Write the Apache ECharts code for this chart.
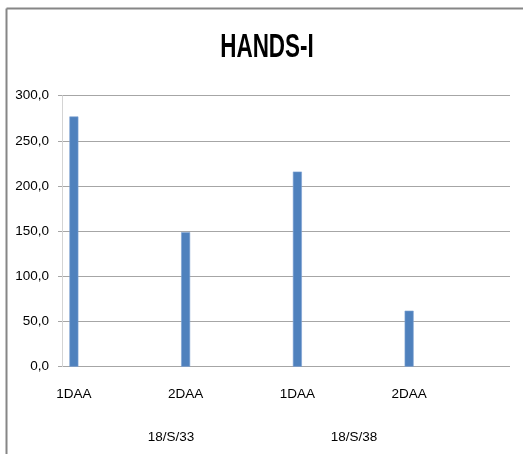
<!DOCTYPE html>
<html>
<head>
<meta charset="utf-8">
<style>html,body{margin:0;padding:0;background:#fff;overflow:hidden;}#c{width:523px;height:454px;}</style>
<script src="https://cdn.jsdelivr.net/npm/echarts@6/dist/echarts.min.js"></script>
</head>
<body>
<div id="c"></div>
<script>
const titleText = 'HANDS-I';
const categories = ['1DAA', '2DAA', '1DAA', '2DAA'];
const groupLabels = ['18/S/33', '18/S/38'];
const values = [277, 149, 216, 62];
const yTicks = { min: 0, max: 300, interval: 50 };

const FONT = "'Liberation Sans',Arial,sans-serif";
const chart = echarts.init(document.getElementById('c'), null, { renderer: 'canvas' });
const gTop = 95.7, gBottom = 454 - 366.7;

chart.setOption({
  animation: false,
  grid: [
    { left: 62, right: 13, top: gTop, bottom: gBottom },
    { left: 18, right: 58, top: gTop, bottom: gBottom },
    { left: 79.5, right: 77.5, top: gTop, bottom: gBottom }
  ],
  xAxis: [
    { gridIndex: 0, type: 'category', data: categories, show: false },
    { gridIndex: 1, type: 'category', data: categories,
      axisLine: { show: false }, axisTick: { show: false },
      axisLabel: { fontFamily: FONT, fontSize: 13.5, color: '#000', margin: 21 } },
    { gridIndex: 2, type: 'category', data: groupLabels,
      axisLine: { show: false }, axisTick: { show: false },
      axisLabel: { fontFamily: FONT, fontSize: 13.5, color: '#000', margin: 64 } }
  ],
  yAxis: [
    { gridIndex: 0, type: 'value', min: yTicks.min, max: yTicks.max, interval: yTicks.interval,
      axisLine: { show: true, lineStyle: { color: '#d4d4d4', width: 1 } },
      axisTick: { show: true, length: 4, lineStyle: { color: '#a6a6a6' } },
      splitLine: { show: true, lineStyle: { color: '#a6a6a6', width: 1 } },
      axisLabel: { fontFamily: FONT, fontSize: 13.5, color: '#000', margin: 13,
        formatter: v => v.toFixed(1).replace('.', ',') } },
    { gridIndex: 1, type: 'value', min: yTicks.min, max: yTicks.max, interval: yTicks.interval, show: false,
      splitLine: { show: false } },
    { gridIndex: 2, type: 'value', min: yTicks.min, max: yTicks.max, show: false, splitLine: { show: false } }
  ],
  series: [{
    type: 'bar', xAxisIndex: 1, yAxisIndex: 1, data: values, barWidth: 9,
    itemStyle: { color: '#4f81bd', borderColor: '#7ea3d3', borderWidth: 0.6 }
  }],
  graphic: [
    { type: 'line', shape: { x1: 6.5, y1: 8.5, x2: 530, y2: 8.5 },
      style: { stroke: '#868686', lineWidth: 2 }, silent: true },
    { type: 'line', shape: { x1: 6.5, y1: 8.5, x2: 6.5, y2: 460 },
      style: { stroke: '#868686', lineWidth: 2 }, silent: true },
    { type: 'text', x: 267, y: 48,
      style: { text: titleText, fontFamily: FONT, fontWeight: 'bold', fontSize: 34,
        fill: '#000', align: 'center', verticalAlign: 'middle' }, scaleX: 0.66 }
  ]
});
</script>
</body>
</html>
